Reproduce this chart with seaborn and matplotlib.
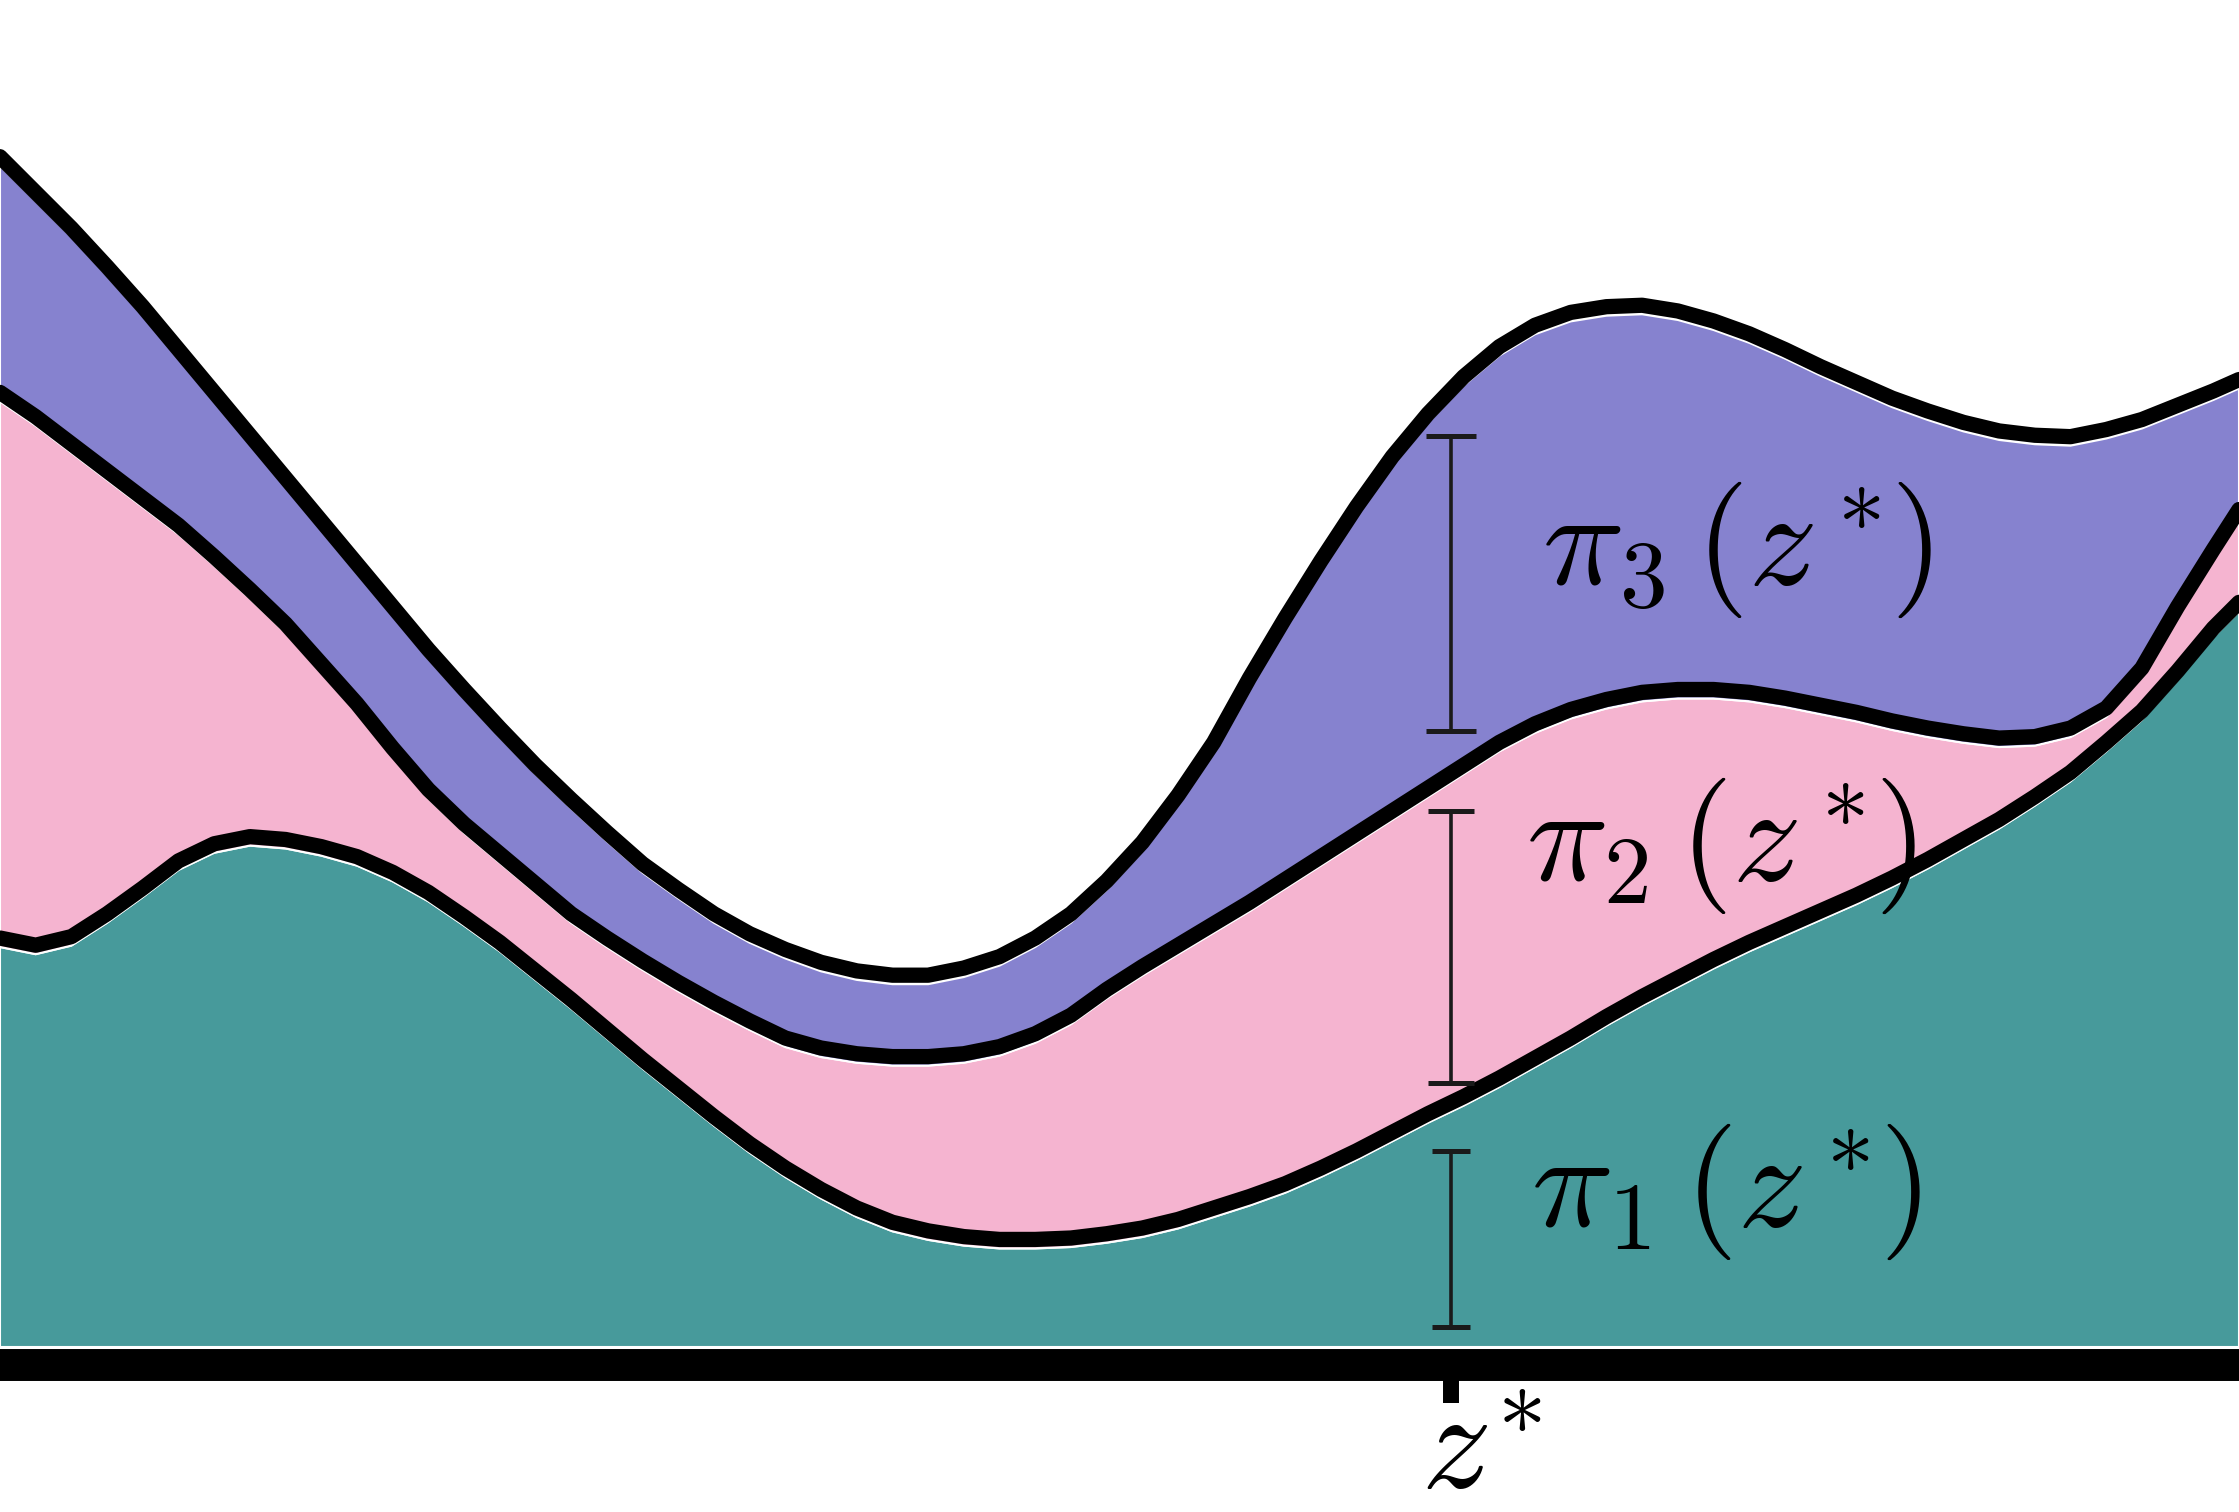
import numpy as np
import pandas as pd
import matplotlib
matplotlib.use("Agg")
import matplotlib.pyplot as plt
import matplotlib.transforms as mtransforms
import seaborn as sns

# ---------------- data ----------------
z = [0.0, 0.5, 1.0, 1.5, 2.0, 2.5, 3.0, 3.5, 4.0, 4.5, 5.0, 5.5, 6.0, 6.5,
     7.0, 7.5, 8.0, 8.5, 9.0, 9.5, 10.0, 10.5, 11.0, 11.5, 12.0, 12.5, 13.0,
     13.5, 14.0, 14.5, 15.0, 15.5, 16.0, 16.5, 17.0, 17.5, 18.0, 18.5, 19.0,
     19.5, 20.0, 20.5, 21.0, 21.5, 22.0, 22.5, 23.0, 23.5, 24.0, 24.5, 25.0,
     25.5, 26.0, 26.5, 27.0, 27.5, 28.0, 28.5, 29.0, 29.5, 30.0, 30.5, 31.0,
     31.36]
# cumulative stack heights: pi1, pi1+pi2, pi1+pi2+pi3
cum_pi1 = [2.80, 2.75, 2.81, 2.97, 3.15, 3.34, 3.46, 3.51, 3.49, 3.44, 3.37,
           3.26, 3.12, 2.95, 2.77, 2.57, 2.37, 2.16, 1.95, 1.75, 1.55, 1.36,
           1.19, 1.04, 0.91, 0.81, 0.75, 0.71, 0.69, 0.69, 0.70, 0.73, 0.77,
           0.83, 0.91, 0.99, 1.08, 1.19, 1.31, 1.44, 1.57, 1.69, 1.82, 1.96,
           2.10, 2.25, 2.39, 2.52, 2.65, 2.77, 2.88, 2.99, 3.10, 3.22, 3.35,
           3.49, 3.63, 3.79, 3.96, 4.17, 4.39, 4.67, 4.97, 5.15]
cum_pi12 = [6.62, 6.45, 6.26, 6.07, 5.88, 5.69, 5.47, 5.24, 5.00, 4.72, 4.44,
            4.13, 3.84, 3.60, 3.39, 3.18, 2.97, 2.80, 2.64, 2.49, 2.35, 2.22,
            2.10, 2.03, 1.99, 1.97, 1.97, 1.99, 2.04, 2.13, 2.26, 2.44, 2.60,
            2.75, 2.90, 3.05, 3.21, 3.37, 3.53, 3.69, 3.85, 4.01, 4.17, 4.30,
            4.40, 4.47, 4.52, 4.54, 4.54, 4.52, 4.48, 4.43, 4.38, 4.32, 4.27,
            4.23, 4.20, 4.21, 4.27, 4.41, 4.69, 5.12, 5.52, 5.80]
cum_pi123 = [8.27, 8.02, 7.77, 7.50, 7.22, 6.92, 6.62, 6.32, 6.02, 5.72, 5.42,
             5.12, 4.82, 4.54, 4.27, 4.01, 3.77, 3.54, 3.32, 3.14, 2.97, 2.83,
             2.72, 2.63, 2.57, 2.54, 2.54, 2.59, 2.67, 2.80, 2.97, 3.20, 3.47,
             3.80, 4.17, 4.62, 5.04, 5.44, 5.82, 6.17, 6.47, 6.73, 6.94, 7.09,
             7.18, 7.22, 7.23, 7.19, 7.12, 7.03, 6.92, 6.80, 6.69, 6.58, 6.49,
             6.41, 6.35, 6.32, 6.31, 6.36, 6.43, 6.53, 6.63, 6.71]
layer_labels = [r"$\pi_1\,(z^*\!)$", r"$\pi_2\,(z^*\!)$", r"$\pi_3\,(z^*\!)$"]
layer_colors = ["#479A9B", "#F5B4D0", "#8682CF"]
z_star = 20.32
z_star_label = r"$z^{\!*}$"
bar_lo = [0.14, 1.85, 4.31]
bar_hi = [1.37, 3.75, 6.38]

# ---------------- style ----------------
sns.set_theme(style="white")
plt.rcParams["mathtext.fontset"] = "cm"
plt.rcParams["font.family"] = ["DejaVu Sans"]

fig = plt.figure(figsize=(22.39, 15.12), dpi=100)
ax = fig.add_axes([0, 1 - 1347 / 1512, 1, 1347 / 1512])

df = pd.DataFrame({"z": z, "c1": cum_pi1, "c2": cum_pi12, "c3": cum_pi123})

lowers = [np.zeros(len(df)), df["c1"], df["c2"]]
uppers = [df["c1"], df["c2"], df["c3"]]
for lo, hi, col in zip(lowers, uppers, layer_colors):
    ax.fill_between(df["z"], lo, hi, facecolor=col, edgecolor="white",
                    linewidth=1.5, zorder=1)

offset = mtransforms.ScaledTranslation(0, 9 / 100, fig.dpi_scale_trans)
for c in ["c1", "c2", "c3"]:
    sns.lineplot(data=df, x="z", y=c, color="black", linewidth=11, ax=ax,
                 zorder=3)
    ln = ax.lines[-1]
    ln.set_transform(ax.transData + offset)
    ln.set_solid_joinstyle("round")

caps = [13.7, 16.5, 18]
for lo, hi, cap in zip(bar_lo, bar_hi, caps):
    ax.errorbar([z_star], [(lo + hi) / 2], yerr=[(hi - lo) / 2], fmt="none",
                ecolor="#1a1a1a", elinewidth=2.6, capsize=cap, capthick=3.6,
                zorder=4)

label_pos = [(21.44, 0.85), (21.38, 3.27), (21.60, 5.34)]
for (lx, ly), lab in zip(label_pos, layer_labels):
    ax.text(lx, ly, lab, fontsize=98, color="black", ha="left",
            va="baseline", zorder=5)

ax.set_xlim(0, 31.36)
ax.set_ylim(0, 9.43)
ax.set_xlabel("")
ax.set_ylabel("")
ax.set_yticks([])
ax.set_xticks([z_star])
ax.set_xticklabels([""])
for s in ["left", "top", "right"]:
    ax.spines[s].set_visible(False)
sp = ax.spines["bottom"]
sp.set_visible(True)
sp.set_color("black")
sp.set_linewidth(23)
sp.set_position(("outward", 13))
sp.set_capstyle("butt")
ax.tick_params(axis="x", bottom=True, length=27.4, width=11.5, color="black",
               direction="out")
ax.set_facecolor("white")

tlab = mtransforms.offset_copy(ax.get_xaxis_transform(), fig=fig, x=-30, y=0,
                               units="dots")
ax.text(z_star, -0.026, z_star_label, fontsize=100, color="black",
        ha="left", va="top", transform=tlab)

fig.savefig("out.png", dpi=100, facecolor="white")
